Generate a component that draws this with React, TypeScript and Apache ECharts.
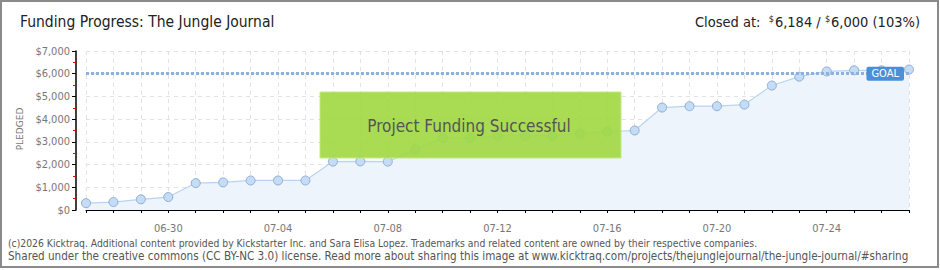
import React, { useEffect, useRef } from "react";
import * as echarts from "echarts";

const dates = [
  "06-27", "06-28", "06-29", "06-30", "07-01", "07-02", "07-03", "07-04",
  "07-05", "07-06", "07-07", "07-08", "07-09", "07-10", "07-11", "07-12",
  "07-13", "07-14", "07-15", "07-16", "07-17", "07-18", "07-19", "07-20",
  "07-21", "07-22", "07-23", "07-24", "07-25", "07-26", "07-27",
];
const pledged = [
  300, 350, 470, 570, 1185, 1215, 1300, 1300,
  1300, 2130, 2140, 2130, 2660, 3175, 3175, 3265,
  3265, 3265, 3370, 3450, 3500, 4510, 4570, 4570,
  4640, 5480, 5870, 6100, 6150, 6150, 6184,
];
const goal = 6000;
const yTicks = [0, 1000, 2000, 3000, 4000, 5000, 6000, 7000];
const titleText = "Funding Progress: The Jungle Journal";
const footer1 =
  "(c)2026 Kicktraq. Additional content provided by Kickstarter Inc. and Sara Elisa Lopez. Trademarks and related content are owned by their respective companies.";
const footer2 =
  "Shared under the creative commons (CC BY-NC 3.0) license. Read more about sharing this image at www.kicktraq.com/projects/thejunglejournal/the-jungle-journal/#sharing";

const FONT = "'DejaVu Sans Condensed', 'Liberation Sans Narrow', 'DejaVu Sans', sans-serif";

export default function App() {
  const ref = useRef<HTMLDivElement>(null);
  useEffect(() => {
    document.body.style.margin = "0";
    const chart = echarts.init(ref.current!, null, { renderer: "svg" });
    const fmt = (v: number) => "$" + v.toLocaleString("en-US");
    chart.setOption({
      animation: false,
      backgroundColor: "#fff",
      grid: { left: 86, right: 31, top: 51, bottom: 60 },
      xAxis: {
        type: "category",
        data: dates,
        boundaryGap: false,
        offset: 10,
        axisLine: { lineStyle: { color: "#000", width: 1 } },
        axisTick: { show: true, interval: 0, length: 3, lineStyle: { color: "#000" } },
        axisLabel: {
          interval: (i: number) => i % 4 === 3,
          color: "#777",
          fontSize: 11,
          fontFamily: FONT,
          margin: 3,
        },
        splitLine: {
          show: true,
          interval: 0,
          lineStyle: { color: "#e2e2e2", type: [4, 4] },
        },
      },
      yAxis: {
        type: "value",
        min: 0,
        max: 7000,
        interval: 1000,
        offset: 10,
        axisLine: { show: true, lineStyle: { color: "#000", width: 1.5 } },
        axisTick: { show: true, length: 4, lineStyle: { color: "#000" } },
        minorTick: { show: true, splitNumber: 2, length: 3, lineStyle: { color: "#e00" } },
        axisLabel: {
          formatter: (v: number) => (yTicks.includes(v) ? fmt(v) : ""),
          color: "#777",
          fontSize: 11,
          fontFamily: FONT,
          margin: 6,
        },
        splitLine: { show: true, lineStyle: { color: "#e2e2e2", type: [4, 4] } },
      },
      series: [
        {
          type: "line",
          data: pledged,
          symbol: "circle",
          symbolSize: 9,
          lineStyle: { color: "#b8d4f2", width: 1.2 },
          itemStyle: { color: "#c4dcf6", borderColor: "#8eaed4", borderWidth: 1 },
          areaStyle: { color: "#edf4fc", opacity: 1 },
          z: 3,
          markLine: {
            silent: true,
            symbol: "none",
            data: [{ yAxis: goal }],
            lineStyle: { color: "#8db2e0", width: 3, type: [3, 2] },
            label: {
              show: true,
              formatter: "GOAL",
              position: "insideEnd",
              distance: 5,
              color: "#fff",
              fontSize: 11,
              fontFamily: FONT,
              backgroundColor: "#4a8fd8",
              borderRadius: 2,
              padding: [2, 5, 1, 5],
            },
          },
        },
      ],
      graphic: [
        {
          type: "rect",
          shape: { x: 1, y: 1, width: 937, height: 266 },
          style: { fill: "none", stroke: "#8a8a8a", lineWidth: 2 },
          z: 0,
          silent: true,
        },
        {
          type: "text",
          left: 20,
          top: 14,
          style: { text: titleText, fill: "#222", fontSize: 15.5, fontFamily: FONT },
        },
        {
          type: "text",
          right: 20,
          top: 14,
          style: {
            text: "Closed at:  {s|$}6,184 / {s|$}6,000 (103%)",
            fill: "#222",
            fontSize: 14.5,
            fontFamily: FONT,
            rich: {
              s: { fontSize: 9, fontFamily: FONT, fill: "#222", verticalAlign: "top", padding: [0, 1, 6, 0] },
            },
          },
        },
        {
          type: "text",
          x: 20,
          y: 129,
          rotation: Math.PI / 2,
          style: {
            text: "PLEDGED",
            fill: "#777",
            fontSize: 9,
            fontFamily: "'DejaVu Sans', sans-serif",
            align: "center",
            verticalAlign: "middle",
          },
        },
        {
          type: "rect",
          shape: { x: 320, y: 92, width: 301, height: 66 },
          style: { fill: "rgba(160,216,64,0.9)", stroke: "#c4e884", lineWidth: 1 },
          z: 100,
        },
        {
          type: "text",
          x: 469,
          y: 126,
          z: 101,
          style: {
            text: "Project Funding Successful",
            fill: "#555",
            fontSize: 17,
            fontFamily: FONT,
            align: "center",
            verticalAlign: "middle",
            textShadowColor: "#fff",
            textShadowOffsetX: 1,
            textShadowOffsetY: 1,
            textShadowBlur: 0,
          },
        },
        {
          type: "text",
          x: 8,
          y: 238,
          style: { text: footer1, fill: "#555", fontSize: 10.3, fontFamily: FONT },
        },
        {
          type: "text",
          x: 8,
          y: 250,
          style: { text: footer2, fill: "#555", fontSize: 11.6, fontFamily: FONT },
        },
      ],
    });
    return () => chart.dispose();
  }, []);
  return <div ref={ref} style={{ width: 940, height: 270 }} />;
}
